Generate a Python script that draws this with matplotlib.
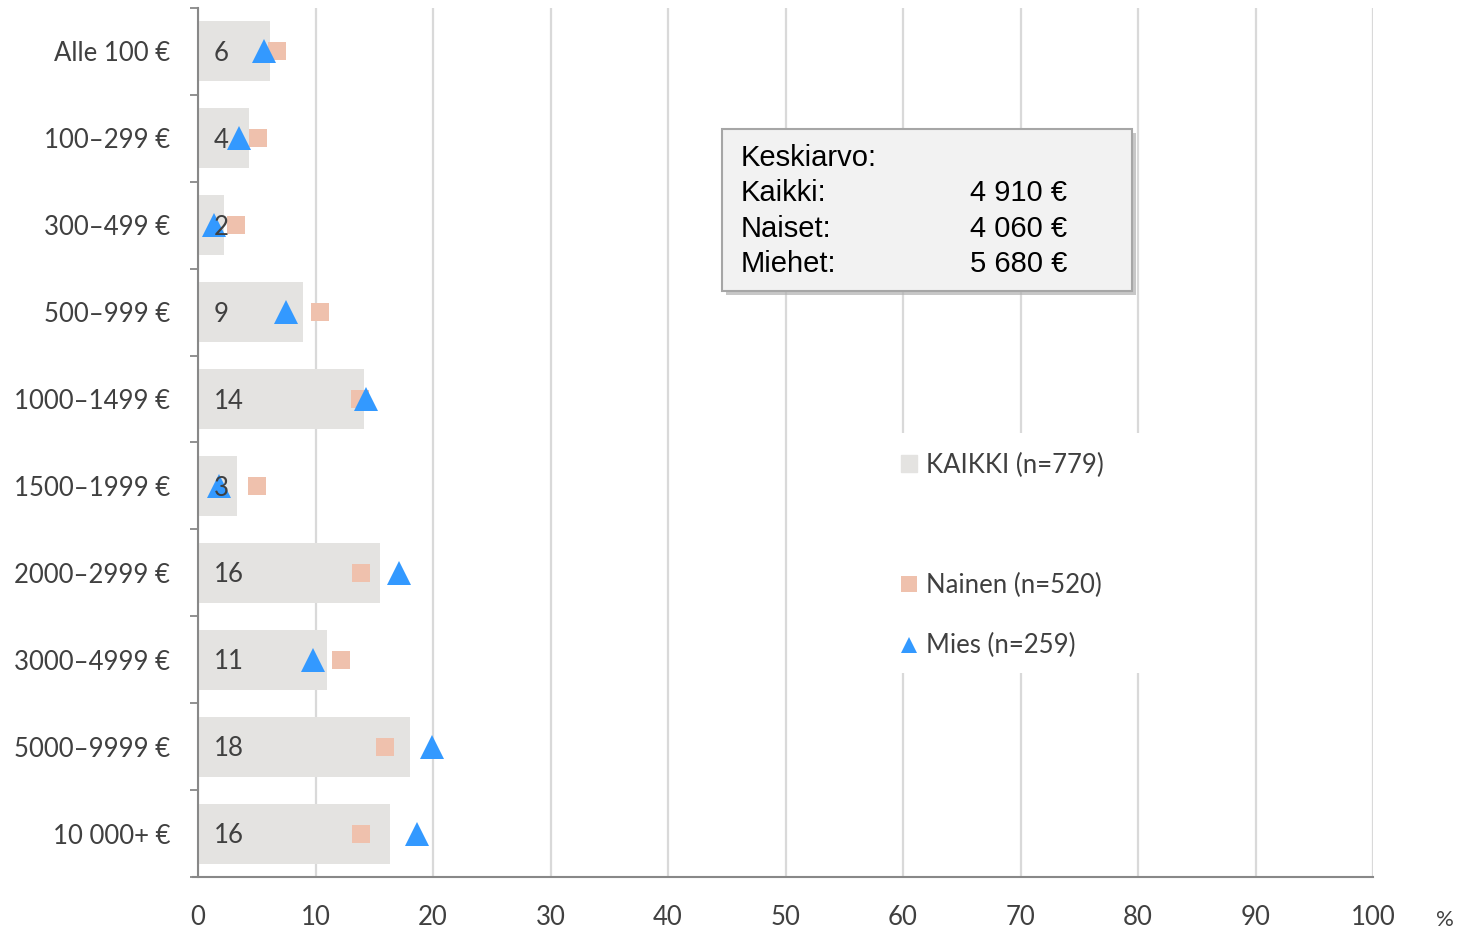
import matplotlib
matplotlib.use("Agg")
import matplotlib.pyplot as plt
from matplotlib.patches import Rectangle, Patch
from matplotlib.lines import Line2D
import numpy as np

# data
categories = ["Alle 100 €", "100–299 €", "300–499 €", "500–999 €", "1000–1499 €",
              "1500–1999 €", "2000–2999 €", "3000–4999 €", "5000–9999 €", "10 000+ €"]
kaikki = [6.1, 4.3, 2.2, 8.9, 14.1, 3.3, 15.5, 10.95, 18.0, 16.3]
nainen = [6.7, 5.1, 3.2, 10.4, 13.8, 5.0, 13.9, 12.2, 15.9, 13.9]
mies = [5.6, 3.5, 1.4, 7.5, 14.3, 1.8, 17.1, 9.8, 19.9, 18.6]
bar_labels = ["6", "4", "2", "9", "14", "3", "16", "11", "18", "16"]
x_ticks = [0, 10, 20, 30, 40, 50, 60, 70, 80, 90, 100]

legend_labels = ["KAIKKI (n=779)", "Nainen (n=520)", "Mies (n=259)"]
box_rows = [("Kaikki:", "4 910 €"), ("Naiset:", "4 060 €"), ("Miehet:", "5 680 €")]

GREY_BAR = "#e4e3e1"
PINK = "#efc1ad"
BLUE = "#3399ff"
TXT = "#404040"
FONT = "Lato"

W, H = 1463, 932
fig = plt.figure(figsize=(W / 100, H / 100), dpi=100)
ax = fig.add_axes([198 / W, 1 - 877 / H, 1175 / W, 869 / H])

y = np.arange(len(categories))
ax.barh(y, kaikki, height=0.69, color=GREY_BAR, zorder=2)
ax.plot(nainen, y, linestyle="none", marker="s", markersize=13.5,
        color=PINK, markeredgewidth=0, zorder=3)
ax.plot(mies, y, linestyle="none", marker="^", markersize=17,
        color=BLUE, markeredgewidth=0, zorder=4)

for yi, lab in zip(y, bar_labels):
    ax.annotate(lab, (0, yi), xytext=(11.5, -1.5), textcoords="offset points",
                ha="left", va="center", fontsize=18.5, color=TXT,
                family=FONT, zorder=5)

ax.set_xlim(0, 100)
ax.set_ylim(len(categories) - 0.5, -0.5)
ax.set_xticks(x_ticks)
ax.set_xticklabels([str(t) for t in x_ticks], fontsize=18.5, color=TXT, family=FONT)
ax.set_yticks(y)
ax.set_yticklabels(categories, fontsize=18.5, color=TXT, family=FONT)
ax.set_yticks(np.arange(-0.5, len(categories)), minor=True)
ax.tick_params(axis="y", which="major", length=0, pad=20)
ax.tick_params(axis="y", which="minor", length=6, width=1.3, color="#888888",
               direction="out")
ax.tick_params(axis="x", length=0, pad=20)

ax.grid(axis="x", color="#d9d9d9", linewidth=1.6, zorder=0)
ax.set_axisbelow(True)
for s in ["top", "right"]:
    ax.spines[s].set_visible(False)
for s in ["left", "bottom"]:
    ax.spines[s].set_color("#888888")
    ax.spines[s].set_linewidth(1.5)
ax.spines["bottom"].set_bounds(-0.4, 100)
ax.spines["bottom"].set_zorder(1)

fig.text(1445 / W, 1 - 920 / H, "%", fontsize=16, color=TXT, family=FONT,
         ha="center", va="center")

# white area behind the legend hides the gridlines there
fig.add_artist(Rectangle((893 / W, 1 - 673 / H), 252 / W, 240 / H,
                         transform=fig.transFigure, facecolor="white",
                         edgecolor="none", zorder=1.5))

# legend with a blank slot between KAIKKI and the markers
handles = [Patch(color=GREY_BAR),
           Line2D([], [], linestyle="none"),
           Line2D([], [], linestyle="none", marker="s", markersize=11.5,
                  color=PINK, markeredgewidth=0),
           Line2D([], [], linestyle="none", marker="^", markersize=11.5,
                  color=BLUE, markeredgewidth=0)]
labels = [legend_labels[0], "", legend_labels[1], legend_labels[2]]
leg = fig.legend(handles, labels, loc="upper left",
                 bbox_to_anchor=(880 / W, 1 - 432 / H),
                 frameon=False, handlelength=0.65,
                 handleheight=0.65, handletextpad=0.35, labelspacing=1.37,
                 borderpad=0.3,
                 prop={"family": FONT, "size": 18.5})
for t in leg.get_texts():
    t.set_color(TXT)

# info box with shadow
bx, by, bw, bh = 722 / W, 1 - 291 / H, 410 / W, 162 / H
fig.add_artist(Rectangle((bx + 4 / W, by - 4 / H), bw, bh, transform=fig.transFigure,
                         facecolor="#b0b0b0", edgecolor="none", alpha=0.7, zorder=5))
fig.add_artist(Rectangle((bx, by), bw, bh, transform=fig.transFigure,
                         facecolor="#f2f2f2", edgecolor="#a6a6a6", linewidth=1.5,
                         zorder=6))
rows_y = [158, 193, 229, 264]
fig.text(741 / W, 1 - rows_y[0] / H, "Keskiarvo:", fontsize=21, color="black",
         family="Liberation Sans", va="center", zorder=7)
for (name, val), ry in zip(box_rows, rows_y[1:]):
    fig.text(741 / W, 1 - ry / H, name, fontsize=21, color="black",
             family="Liberation Sans", va="center", zorder=7)
    fig.text(970 / W, 1 - ry / H, val, fontsize=21, color="black",
             family="Liberation Sans", va="center", zorder=7)

fig.savefig("out.png", dpi=100)
